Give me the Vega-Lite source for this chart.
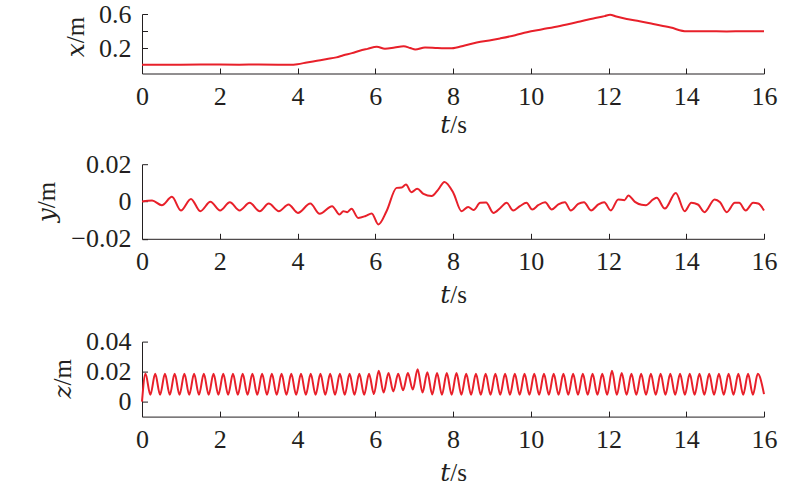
{
  "$schema": "https://vega.github.io/schema/vega-lite/v6.json",
  "padding": {"left": 34, "top": 1, "right": 24, "bottom": 4},
  "background": "white",
  "config": {
    "view": {"stroke": null},
    "axis": {
      "grid": false,
      "domainColor": "#231f20",
      "tickColor": "#231f20",
      "labelColor": "#231f20",
      "titleColor": "#231f20",
      "labelFont": "Liberation Serif",
      "titleFont": "Liberation Serif, DejaVu Serif",
      "labelFontSize": 26,
      "titleFontSize": 25,
      "titleFontWeight": "normal",
      "tickSize": -5.5,
      "tickWidth": 1,
      "domainWidth": 1,
      "labelOverlap": false,
      "format": "~g"
    },
    "axisX": {"labelFlush": false, "labelBaseline": "middle", "labelPadding": 28, "titleBaseline": "middle"},
    "axisY": {"labelPadding": 16.5, "titleBaseline": "alphabetic", "titleAlign": "center"}
  },
  "datasets": {
    "xs": [
      {"t": 0, "v": 0.003}, {"t": 0.5, "v": 0.004}, {"t": 1, "v": 0.004}, {"t": 1.5, "v": 0.005},
      {"t": 2, "v": 0.005}, {"t": 2.5, "v": 0.004}, {"t": 3, "v": 0.005}, {"t": 3.5, "v": 0.004},
      {"t": 3.8, "v": 0.004}, {"t": 4.0, "v": 0.01}, {"t": 4.24, "v": 0.03}, {"t": 4.5, "v": 0.05},
      {"t": 4.76, "v": 0.07}, {"t": 5.0, "v": 0.09}, {"t": 5.18, "v": 0.115}, {"t": 5.4, "v": 0.14},
      {"t": 5.6, "v": 0.168}, {"t": 5.8, "v": 0.19}, {"t": 6.04, "v": 0.215}, {"t": 6.25, "v": 0.19},
      {"t": 6.5, "v": 0.205}, {"t": 6.73, "v": 0.22}, {"t": 6.9, "v": 0.2}, {"t": 7.03, "v": 0.182},
      {"t": 7.28, "v": 0.207}, {"t": 7.6, "v": 0.2}, {"t": 7.97, "v": 0.196}, {"t": 8.3, "v": 0.23},
      {"t": 8.61, "v": 0.265}, {"t": 9.0, "v": 0.295}, {"t": 9.21, "v": 0.313}, {"t": 9.6, "v": 0.35},
      {"t": 9.9, "v": 0.385}, {"t": 10.3, "v": 0.42}, {"t": 10.75, "v": 0.46}, {"t": 11.2, "v": 0.505},
      {"t": 11.61, "v": 0.548}, {"t": 11.9, "v": 0.575}, {"t": 12.04, "v": 0.592}, {"t": 12.2, "v": 0.57},
      {"t": 12.47, "v": 0.54}, {"t": 12.8, "v": 0.515}, {"t": 13.15, "v": 0.482}, {"t": 13.6, "v": 0.44},
      {"t": 14.01, "v": 0.396}, {"t": 14.5, "v": 0.398}, {"t": 15.04, "v": 0.395}, {"t": 15.5, "v": 0.397},
      {"t": 16, "v": 0.396}
    ],
    "ys": [
      {"t": 0, "v": 0}, {"t": 0.26, "v": 0.0005}, {"t": 0.51, "v": -0.002}, {"t": 0.77, "v": 0.0025},
      {"t": 1.0, "v": -0.0048}, {"t": 1.26, "v": 0.0014}, {"t": 1.5, "v": -0.0052}, {"t": 1.76, "v": -0.0002},
      {"t": 2.01, "v": -0.0048}, {"t": 2.26, "v": -0.0004}, {"t": 2.51, "v": -0.0048}, {"t": 2.77, "v": -0.0007},
      {"t": 3.03, "v": -0.0052}, {"t": 3.26, "v": -0.0011}, {"t": 3.52, "v": -0.0052}, {"t": 3.77, "v": -0.0016},
      {"t": 4.01, "v": -0.0061}, {"t": 4.33, "v": -0.0011}, {"t": 4.57, "v": -0.0066}, {"t": 4.89, "v": -0.0025},
      {"t": 5.08, "v": -0.007}, {"t": 5.18, "v": -0.0052}, {"t": 5.28, "v": -0.0057}, {"t": 5.39, "v": -0.0039},
      {"t": 5.56, "v": -0.0088}, {"t": 5.75, "v": -0.0078}, {"t": 5.91, "v": -0.0064}, {"t": 6.08, "v": -0.0123},
      {"t": 6.29, "v": -0.0052}, {"t": 6.55, "v": 0.0073}, {"t": 6.68, "v": 0.0075}, {"t": 6.79, "v": 0.0091},
      {"t": 6.93, "v": 0.005}, {"t": 7.08, "v": 0.0068}, {"t": 7.24, "v": 0.0041}, {"t": 7.45, "v": 0.0029},
      {"t": 7.62, "v": 0.0064}, {"t": 7.78, "v": 0.0105}, {"t": 8.01, "v": 0.0046}, {"t": 8.22, "v": -0.0052},
      {"t": 8.39, "v": -0.0029}, {"t": 8.53, "v": -0.0046}, {"t": 8.7, "v": -0.0007}, {"t": 8.85, "v": -0.0006},
      {"t": 9.04, "v": -0.0061}, {"t": 9.21, "v": -0.0036}, {"t": 9.38, "v": -0.0007}, {"t": 9.55, "v": -0.0048},
      {"t": 9.72, "v": -0.0025}, {"t": 9.89, "v": -0.0007}, {"t": 10.04, "v": -0.0043}, {"t": 10.19, "v": -0.002},
      {"t": 10.37, "v": -0.0004}, {"t": 10.54, "v": -0.0043}, {"t": 10.71, "v": -0.0016}, {"t": 10.88, "v": -0.0004},
      {"t": 11.03, "v": -0.0048}, {"t": 11.22, "v": -0.0013}, {"t": 11.37, "v": -0.0004}, {"t": 11.55, "v": -0.0048},
      {"t": 11.74, "v": -0.0016}, {"t": 11.89, "v": -0.0004}, {"t": 12.06, "v": -0.0048}, {"t": 12.25, "v": 0.0011},
      {"t": 12.41, "v": 0.0007}, {"t": 12.51, "v": 0.0032}, {"t": 12.68, "v": -0.0002}, {"t": 12.85, "v": -0.0018},
      {"t": 12.96, "v": -0.002}, {"t": 13.15, "v": 0.0011}, {"t": 13.24, "v": 0.002}, {"t": 13.45, "v": -0.0038},
      {"t": 13.73, "v": 0.0046}, {"t": 13.96, "v": -0.0052}, {"t": 14.13, "v": -0.0007}, {"t": 14.3, "v": -0.0016},
      {"t": 14.47, "v": -0.0057}, {"t": 14.73, "v": 0.0011}, {"t": 14.87, "v": -0.0004}, {"t": 15.04, "v": -0.0057},
      {"t": 15.25, "v": -0.0007}, {"t": 15.36, "v": -0.0007}, {"t": 15.53, "v": -0.0048}, {"t": 15.72, "v": -0.0007},
      {"t": 15.85, "v": -0.0011}, {"t": 16.0, "v": -0.0048}
    ],
    "zs": [
      {"t": 0, "v": 0},
      {"t": 0.09, "v": 0.0185}, {"t": 0.215, "v": 0.0045}, {"t": 0.34, "v": 0.0185}, {"t": 0.465, "v": 0.0045},
      {"t": 0.59, "v": 0.0185}, {"t": 0.715, "v": 0.0045}, {"t": 0.84, "v": 0.0185}, {"t": 0.965, "v": 0.0045},
      {"t": 1.09, "v": 0.0185}, {"t": 1.215, "v": 0.0045}, {"t": 1.34, "v": 0.0185}, {"t": 1.465, "v": 0.0045},
      {"t": 1.59, "v": 0.0185}, {"t": 1.715, "v": 0.0045}, {"t": 1.84, "v": 0.0185}, {"t": 1.965, "v": 0.0045},
      {"t": 2.09, "v": 0.0185}, {"t": 2.215, "v": 0.0045}, {"t": 2.34, "v": 0.0185}, {"t": 2.465, "v": 0.0045},
      {"t": 2.59, "v": 0.0185}, {"t": 2.715, "v": 0.0045}, {"t": 2.84, "v": 0.0185}, {"t": 2.965, "v": 0.0045},
      {"t": 3.09, "v": 0.0185}, {"t": 3.215, "v": 0.0045}, {"t": 3.34, "v": 0.0185}, {"t": 3.465, "v": 0.0045},
      {"t": 3.59, "v": 0.0185}, {"t": 3.715, "v": 0.0045}, {"t": 3.84, "v": 0.0185}, {"t": 3.965, "v": 0.0045},
      {"t": 4.09, "v": 0.0185}, {"t": 4.215, "v": 0.0045}, {"t": 4.34, "v": 0.0185}, {"t": 4.465, "v": 0.0045},
      {"t": 4.59, "v": 0.0185}, {"t": 4.715, "v": 0.0045}, {"t": 4.84, "v": 0.0185}, {"t": 4.965, "v": 0.0045},
      {"t": 5.09, "v": 0.0185}, {"t": 5.215, "v": 0.0045}, {"t": 5.34, "v": 0.0185}, {"t": 5.465, "v": 0.0045},
      {"t": 5.59, "v": 0.0185}, {"t": 5.715, "v": 0.0045}, {"t": 5.84, "v": 0.0185}, {"t": 5.965, "v": 0.005},
      {"t": 6.09, "v": 0.0205}, {"t": 6.215, "v": 0.006}, {"t": 6.34, "v": 0.019}, {"t": 6.465, "v": 0.0068},
      {"t": 6.59, "v": 0.0185}, {"t": 6.715, "v": 0.0075}, {"t": 6.84, "v": 0.019}, {"t": 6.965, "v": 0.008},
      {"t": 7.09, "v": 0.0215}, {"t": 7.215, "v": 0.006}, {"t": 7.34, "v": 0.0195}, {"t": 7.465, "v": 0.0048},
      {"t": 7.59, "v": 0.019}, {"t": 7.715, "v": 0.0045}, {"t": 7.84, "v": 0.019}, {"t": 7.965, "v": 0.0045},
      {"t": 8.09, "v": 0.019}, {"t": 8.215, "v": 0.0045}, {"t": 8.34, "v": 0.0185}, {"t": 8.465, "v": 0.0045},
      {"t": 8.59, "v": 0.0185}, {"t": 8.715, "v": 0.0045}, {"t": 8.84, "v": 0.0185}, {"t": 8.965, "v": 0.0045},
      {"t": 9.09, "v": 0.0185}, {"t": 9.215, "v": 0.0045}, {"t": 9.34, "v": 0.0185}, {"t": 9.465, "v": 0.0045},
      {"t": 9.59, "v": 0.0185}, {"t": 9.715, "v": 0.0045}, {"t": 9.84, "v": 0.0185}, {"t": 9.965, "v": 0.0045},
      {"t": 10.09, "v": 0.0185}, {"t": 10.215, "v": 0.0045}, {"t": 10.34, "v": 0.0185}, {"t": 10.465, "v": 0.0045},
      {"t": 10.59, "v": 0.0185}, {"t": 10.715, "v": 0.0045}, {"t": 10.84, "v": 0.0185}, {"t": 10.965, "v": 0.0045},
      {"t": 11.09, "v": 0.0185}, {"t": 11.215, "v": 0.0045}, {"t": 11.34, "v": 0.0185}, {"t": 11.465, "v": 0.0045},
      {"t": 11.59, "v": 0.0185}, {"t": 11.715, "v": 0.0045}, {"t": 11.84, "v": 0.0185}, {"t": 11.965, "v": 0.0045},
      {"t": 12.09, "v": 0.0205}, {"t": 12.215, "v": 0.0045}, {"t": 12.34, "v": 0.019}, {"t": 12.465, "v": 0.0045},
      {"t": 12.59, "v": 0.0185}, {"t": 12.715, "v": 0.0045}, {"t": 12.84, "v": 0.0185}, {"t": 12.965, "v": 0.0045},
      {"t": 13.09, "v": 0.0185}, {"t": 13.215, "v": 0.0045}, {"t": 13.34, "v": 0.0185}, {"t": 13.465, "v": 0.0045},
      {"t": 13.59, "v": 0.0185}, {"t": 13.715, "v": 0.0045}, {"t": 13.84, "v": 0.0185}, {"t": 13.965, "v": 0.0045},
      {"t": 14.09, "v": 0.0185}, {"t": 14.215, "v": 0.0045}, {"t": 14.34, "v": 0.0185}, {"t": 14.465, "v": 0.0045},
      {"t": 14.59, "v": 0.0185}, {"t": 14.715, "v": 0.0045}, {"t": 14.84, "v": 0.0185}, {"t": 14.965, "v": 0.0045},
      {"t": 15.09, "v": 0.0185}, {"t": 15.215, "v": 0.0045}, {"t": 15.34, "v": 0.0185}, {"t": 15.465, "v": 0.0045},
      {"t": 15.59, "v": 0.0185}, {"t": 15.715, "v": 0.0045}, {"t": 15.84, "v": 0.0185}, {"t": 16.0, "v": 0.005}
    ]
  },
  "vconcat": [
    {
      "width": 622,
      "height": 59.5,
      "data": {"name": "xs"},
      "mark": {"type": "line", "color": "#e8202a", "strokeWidth": 2, "interpolate": "monotone"},
      "encoding": {
        "x": {"field": "t", "type": "quantitative", "scale": {"domain": [0, 16], "nice": false},
              "axis": {"values": [0, 2, 4, 6, 8, 10, 12, 14, 16], "title": "𝑡/s", "titleY": 51}},
        "y": {"field": "v", "type": "quantitative", "scale": {"domain": [-0.1, 0.6], "nice": false, "zero": false},
              "axis": {"values": [0.2, 0.4, 0.6], "labelExpr": "datum.value == 0.4 ? '' : datum.label", "title": "𝑥/m", "titleX": -58.7, "titleY": 22.5}}
      }
    },
    {
      "vconcat": [
        {
          "width": 622,
          "height": 74.6,
          "data": {"name": "ys"},
          "mark": {"type": "line", "color": "#e8202a", "strokeWidth": 2, "interpolate": "monotone"},
          "encoding": {
            "x": {"field": "t", "type": "quantitative", "scale": {"domain": [0, 16], "nice": false},
                  "axis": {"values": [0, 2, 4, 6, 8, 10, 12, 14, 16], "title": "𝑡/s", "titleY": 56}},
            "y": {"field": "v", "type": "quantitative", "scale": {"domain": [-0.02, 0.02], "nice": false},
                  "axis": {"values": [-0.02, 0, 0.02], "title": "𝑦/m", "titleX": -87.7, "titleY": 37.3}}
          }
        },
        {
          "width": 622,
          "height": 75,
          "data": {"name": "zs"},
          "mark": {"type": "line", "color": "#e8202a", "strokeWidth": 2, "interpolate": "monotone"},
          "encoding": {
            "x": {"field": "t", "type": "quantitative", "scale": {"domain": [0, 16], "nice": false},
                  "axis": {"values": [0, 2, 4, 6, 8, 10, 12, 14, 16], "title": "𝑡/s", "titleY": 56}},
            "y": {"field": "v", "type": "quantitative", "scale": {"domain": [-0.01, 0.04], "nice": false, "zero": false},
                  "axis": {"values": [0, 0.02, 0.04], "title": "𝑧/m", "titleX": -71.7, "titleY": 36.7}}
          }
        }
      ],
      "spacing": 102.4,
      "bounds": "flush"
    }
  ],
  "spacing": 90.2,
  "bounds": "flush"
}
